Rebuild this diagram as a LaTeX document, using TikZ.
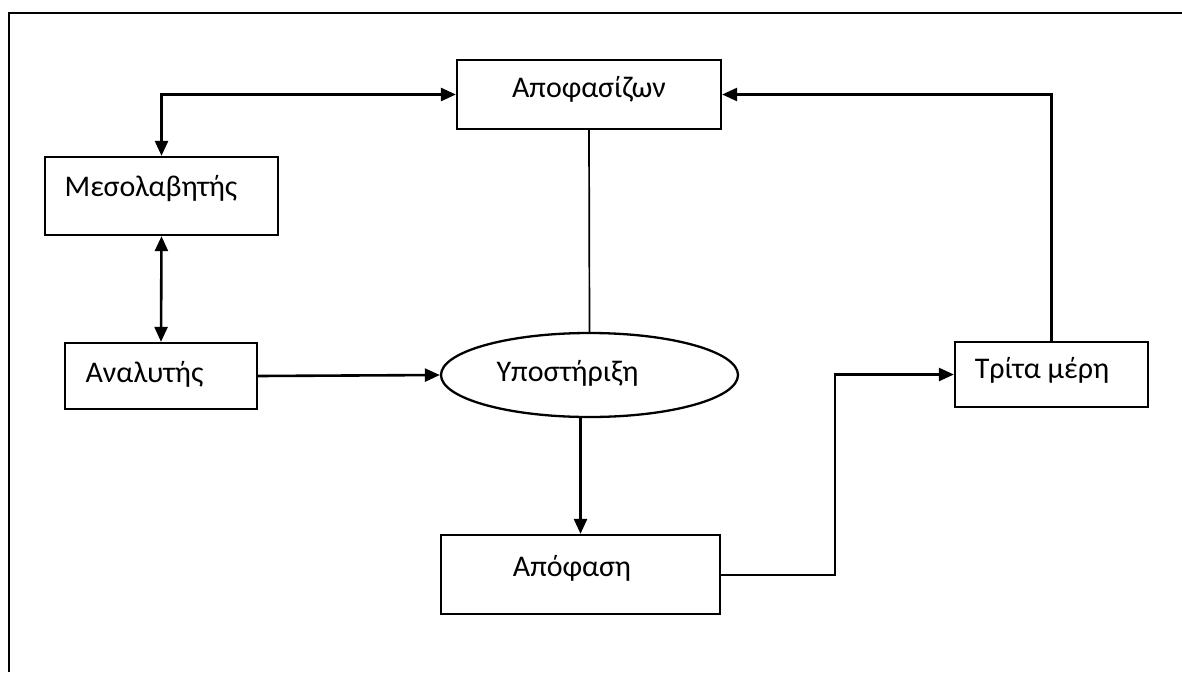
\documentclass[tikz,border=0pt]{standalone}
\usepackage{fontspec}
\setmainfont{Carlito}
\usetikzlibrary{arrows.meta,shapes.geometric}
\begin{document}
\begin{tikzpicture}[x=1pt,y=-1pt,
  box/.style={draw,line width=2.3pt,rectangle,inner sep=0pt},
  lbl/.style={inner sep=0pt,font=\fontsize{30}{34}\selectfont},
  conn/.style={line width=2.6pt},
  thinconn/.style={line width=1.7pt},
  tip/.style={-{Triangle[length=15pt,width=13pt]}},
  tips/.style={{Triangle[length=15pt,width=13pt]}-{Triangle[length=15pt,width=13pt]}}]
\useasboundingbox (0,0) rectangle (1182,672);
\fill[white] (0,0) rectangle (1182,672);
% outer frame (only top and left edges visible)
\coordinate (fa) at (9,672);
\coordinate (fb) at (9,13);
\coordinate (fc) at (1182,13);
\draw[line width=2.4pt] (fa) -- (fb) -- (fc);
% boxes
\node[box,minimum width=264pt,minimum height=69pt] (apof) at (589,94.5) {};
\node[box,minimum width=233pt,minimum height=78pt] (meso) at (161.5,196) {};
\node[box,minimum width=192pt,minimum height=66pt] (anal) at (161,376) {};
\node[draw,line width=2.3pt,ellipse,minimum width=297pt,minimum height=84pt,inner sep=0pt] (ypo) at (589.5,375) {};
\node[box,minimum width=279pt,minimum height=79pt] (apofasi) at (580.5,574.5) {};
\node[box,minimum width=193pt,minimum height=65pt] (trita) at (1051.5,374.5) {};
% labels
\node[lbl] (tapof) at (589,89) {Αποφασίζων};
\node[lbl] (tmeso) at (151,189) {Μεσολαβητής};
\node[lbl] (tanal) at (144.5,374) {Αναλυτής};
\node[lbl] (typo) at (567.5,373) {Υποστήριξη};
\node[lbl] (tapofasi) at (572,568) {Απόφαση};
\node[lbl] (ttrita) at (1042,370) {Τρίτα μέρη};
% connectors
\draw[conn,tips] (meso.north) |- (apof.west);
\draw[conn,tips] (meso.south) -- (anal.north);
\draw[conn,tip] (anal.east) -- (ypo.west);
\draw[thinconn] (apof.south) -- (ypo.north);
\draw[conn,tip] (ypo.south -| apofasi.north) -- (apofasi.north);
\coordinate (bend) at (835,575);
\draw[conn,tip] (apofasi.east |- bend) -- (bend) |- (trita.west);
\draw[conn,tip] (trita.north) |- (apof.east);
\end{tikzpicture}
\end{document}
